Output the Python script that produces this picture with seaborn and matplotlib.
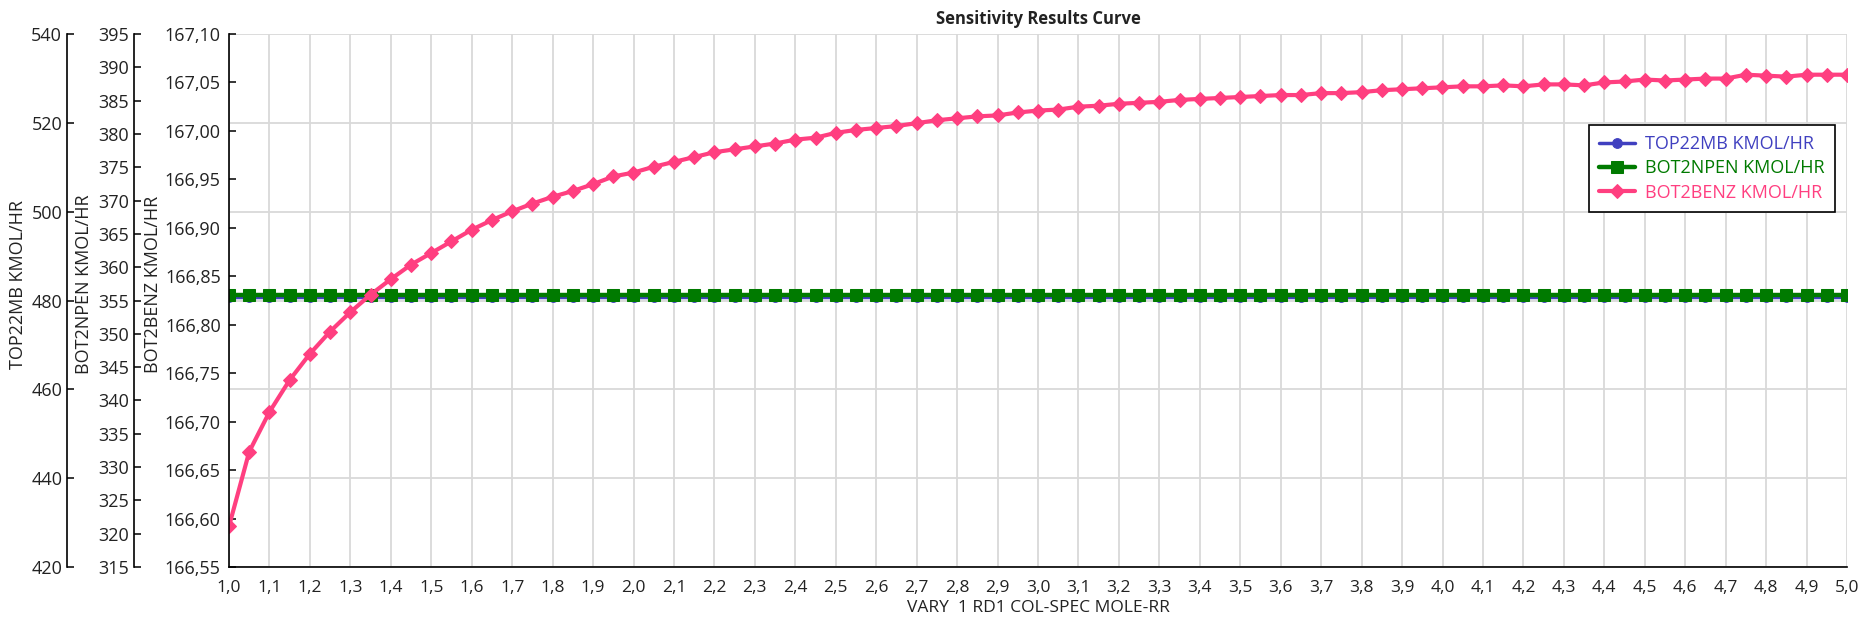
import numpy as np
import matplotlib
matplotlib.use("Agg")
import matplotlib.pyplot as plt
from matplotlib.ticker import FuncFormatter, MultipleLocator
import seaborn as sns

# ---------------- data ----------------
reflux_ratio = np.round(np.arange(1.0, 5.0001, 0.05), 2)   # VARY 1 RD1 COL-SPEC MOLE-RR
top22mb = [480.9] * len(reflux_ratio)                       # TOP22MB KMOL/HR
bot2npen = [355.8] * len(reflux_ratio)                      # BOT2NPEN KMOL/HR
bot2benz = [
    166.592, 166.669, 166.710, 166.743, 166.770, 166.793, 166.813, 166.831, 166.847, 166.862,
    166.874, 166.886, 166.898, 166.908, 166.917, 166.925, 166.932, 166.938, 166.945, 166.953,
    166.957, 166.963, 166.968, 166.973, 166.978, 166.981, 166.984, 166.987, 166.991, 166.993,
    166.998, 167.001, 167.003, 167.005, 167.008, 167.011, 167.013, 167.015, 167.016, 167.019,
    167.021, 167.022, 167.025, 167.026, 167.028, 167.029, 167.030, 167.032, 167.033, 167.034,
    167.035, 167.036, 167.037, 167.037, 167.039, 167.039, 167.040, 167.042, 167.043, 167.044,
    167.045, 167.046, 167.046, 167.047, 167.046, 167.048, 167.048, 167.047, 167.050, 167.051,
    167.053, 167.052, 167.053, 167.054, 167.054, 167.058, 167.057, 167.056, 167.058, 167.058,
    167.058,
]
series_labels = ["TOP22MB KMOL/HR", "BOT2NPEN KMOL/HR", "BOT2BENZ KMOL/HR"]
series_colors = ["#4040C0", "#007A00", "#FF3F80"]
title = "Sensitivity Results Curve"
xlabel = "VARY  1 RD1 COL-SPEC MOLE-RR"

# ---------------- style ----------------
sns.set_style("white")
plt.rcParams["font.family"] = ["Open Sans", "DejaVu Sans"]
plt.rcParams["font.size"] = 12
txt_color = "#222222"

fig = plt.figure(figsize=(18.76, 6.27), dpi=100)
L, R = 229 / 1876, 1847 / 1876
B, T = 1 - 567 / 627, 1 - 34 / 627
ax1 = fig.add_axes([L, B, R - L, T - B])
ax2 = ax1.twinx()
ax3 = ax1.twinx()

sns.lineplot(x=reflux_ratio, y=top22mb, ax=ax1, color=series_colors[0], marker="o",
             markersize=7, markeredgecolor=series_colors[0], linewidth=2.5, legend=False)
sns.lineplot(x=reflux_ratio, y=bot2npen, ax=ax2, color=series_colors[1], marker="s",
             markersize=9, markeredgecolor=series_colors[1], linewidth=3.2, legend=False)
sns.lineplot(x=reflux_ratio, y=bot2benz, ax=ax3, color=series_colors[2], marker="D",
             markersize=7.5, markeredgecolor=series_colors[2], linewidth=3, legend=False)

comma1 = FuncFormatter(lambda v, p: f"{v:.1f}".replace(".", ","))
comma0 = FuncFormatter(lambda v, p: f"{v:.0f}")
comma2 = FuncFormatter(lambda v, p: f"{v:.2f}".replace(".", ","))

# x axis on base axes
ax1.set_xlim(1.0, 5.0)
ax1.xaxis.set_major_locator(MultipleLocator(0.1))
ax1.xaxis.set_major_formatter(comma1)
ax1.tick_params(axis="x", direction="in", length=6, width=1.1, pad=9, colors="black",
                labelcolor=txt_color, labelsize=12.5)
ax1.set_xlabel(xlabel, fontsize=12.5, color=txt_color, labelpad=3)

# grid on base axes
ax1.grid(True, color="#d9d9d9", linewidth=1.3)
ax1.set_axisbelow(True)

# y axes
ax1.set_ylim(420, 540)
ax1.yaxis.set_major_locator(MultipleLocator(20))
ax1.yaxis.set_major_formatter(comma0)
ax2.set_ylim(315, 395)
ax2.yaxis.set_major_locator(MultipleLocator(5))
ax2.yaxis.set_major_formatter(comma0)
ax3.set_ylim(166.55, 167.10)
ax3.yaxis.set_major_locator(MultipleLocator(0.05))
ax3.yaxis.set_major_formatter(comma2)

spine_pos = [-0.1001, -0.0587, 0.0]
label_x = [-0.1248, -0.0841, -0.0414]
for ax, sp, lx, lab in zip([ax1, ax2, ax3], spine_pos, label_x, series_labels):
    for s in ["top", "right"]:
        ax.spines[s].set_visible(False)
    ax.spines["left"].set_visible(True)
    ax.spines["left"].set_position(("axes", sp))
    ax.spines["left"].set_color("black")
    ax.spines["left"].set_linewidth(1.2)
    ax.yaxis.tick_left()
    ax.yaxis.set_label_position("left")
    ax.tick_params(axis="y", direction="in", length=5, width=1.1, pad=3.5, colors="black",
                   labelcolor=txt_color, labelsize=13)
    ax.set_ylabel(lab, fontsize=13, color=txt_color)
    ax.yaxis.set_label_coords(lx, 0.53)
ax1.spines["bottom"].set_color("black")
ax1.spines["bottom"].set_linewidth(1.2)
for ax in [ax2, ax3]:
    ax.spines["bottom"].set_visible(False)
ax3.tick_params(axis="y", pad=6)

ax3.set_title(title, fontsize=12, fontweight="bold", color=txt_color, pad=7)

handles = [ax1.lines[0], ax2.lines[0], ax3.lines[0]]
leg = ax3.legend(handles, series_labels, loc="upper right", bbox_to_anchor=(0.9926, 0.829),
                 borderaxespad=0, frameon=True, fancybox=False, edgecolor="black",
                 framealpha=1, fontsize=13, handlelength=2.0, labelspacing=0.35,
                 borderpad=0.55, handletextpad=0.6)
leg.get_frame().set_linewidth(1.2)
for t, c in zip(leg.get_texts(), series_colors):
    t.set_color(c)

fig.savefig("out.png", dpi=100)
